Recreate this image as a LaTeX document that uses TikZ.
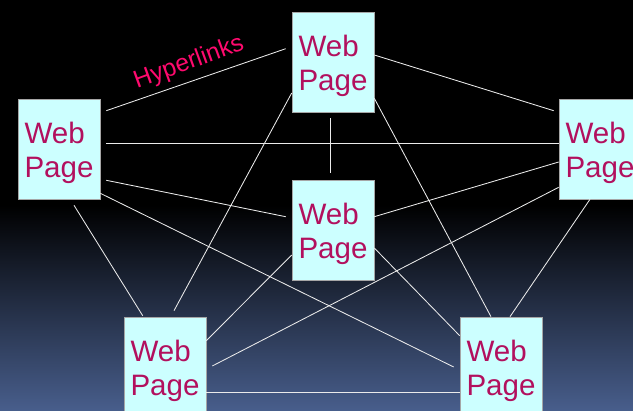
\documentclass[tikz,border=0pt]{standalone}
\usepackage{fontspec}
\setmainfont{Liberation Sans}
\usepackage{tikz}
\usetikzlibrary{shapes}
\definecolor{pagebox}{RGB}{204,255,255}
\definecolor{pagetext}{RGB}{178,16,94}
\definecolor{linkred}{RGB}{255,10,110}
\definecolor{bgblue}{RGB}{72,94,140}
\tikzstyle{page} = [rectangle, draw=gray!70, fill=pagebox, text=pagetext,
    minimum width=2.05cm, minimum height=2.5cm, inner sep=0pt, align=left,
    font=\fontsize{21pt}{24.4pt}\selectfont]
\tikzstyle{link} = [draw, white!92!black, line width=0.6pt]
\newcommand{\webpage}{\rule{0pt}{20.5pt}Web\\Page}

\begin{document}
\begin{tikzpicture}[x=0.025cm, y=-0.025cm]
    \useasboundingbox (0,0) rectangle (633,411);
    % Background
    \fill [black] (0,0) rectangle (633,411);
    \shade [top color=black, bottom color=bgblue] (0,205) rectangle (633,411);
    % Place nodes
    \node [page] (top) at (333,62) {\webpage};
    \node [page] (left) at (59,149) {\webpage};
    \node [page] (right) at (600,149) {\webpage};
    \node [page] (mid) at (333,230) {\webpage};
    \node [page] (botleft) at (165,367) {\webpage};
    \node [page] (botright) at (501,367) {\webpage};
    \node [text=linkred, rotate=20, font=\fontsize{17.5pt}{20pt}\selectfont] (hyper) at (189,63) {Hyperlinks};
    % Draw edges
    \path [link] ([shift={(6,12)}]left.north east) -- ([shift={(-6,37)}]top.north west);
    \path [link] ([shift={(6,-6)}]left.east) -- ([shift={(0,-6)}]right.west);
    \path [link] ([shift={(6,-19)}]left.south east) -- ([shift={(-6,37)}]mid.north west);
    \path [link] ([shift={(0,-6)}]left.south east) -- ([shift={(-6,0)}]botright.west);
    \path [link] ([shift={(15,6)}]left.south) -- ([shift={(19,-1)}]botleft.north west);
    \path [link] ([shift={(0,-7)}]top.east) -- ([shift={(-5,12)}]right.north west);
    \path [link] ([shift={(-3,6)}]top.south) -- ([shift={(-3,-7)}]mid.north);
    \path [link] ([shift={(0,31)}]top.west) -- ([shift={(9,-6)}]botleft.north);
    \path [link] ([shift={(0,-14)}]top.south east) -- ([shift={(-10,0)}]botright.north);
    \path [link] ([shift={(0,13)}]right.west) -- ([shift={(0,37)}]mid.north east);
    \path [link] ([shift={(0,-12)}]right.south west) -- ([shift={(6,-1)}]botleft.east);
    \path [link] ([shift={(-10,0)}]right.south) -- ([shift={(9,0)}]botright.north);
    \path [link] ([shift={(0,25)}]mid.west) -- ([shift={(0,24)}]botleft.north east);
    \path [link] ([shift={(0,18)}]mid.east) -- ([shift={(0,19)}]botright.north west);
    \path [link] ([shift={(0,25)}]botleft.east) -- ([shift={(0,25)}]botright.west);
\end{tikzpicture}
\end{document}
